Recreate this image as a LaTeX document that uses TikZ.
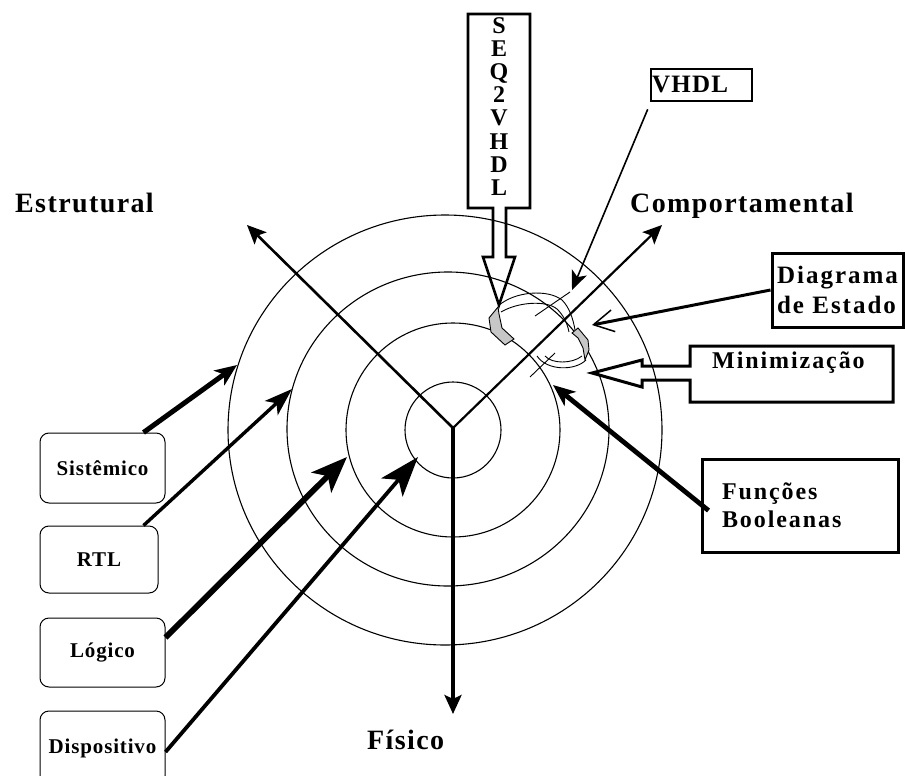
\documentclass[tikz,border=0pt]{standalone}
\usepackage{fontspec}
\setmainfont{Liberation Serif}
\usetikzlibrary{arrows.meta}
\begin{document}
\begin{tikzpicture}[x=1pt,y=-1pt,
  ring/.style={line width=1.1pt},
  axisline/.style={line width=2.6pt,-{Stealth[length=19pt,width=17pt,inset=4pt]}},
  heading/.style={font=\fontsize{28}{30}\selectfont\bfseries\addfontfeature{LetterSpace=5}, inner sep=0pt},
  lvlbox/.style={draw, line width=1pt, rounded corners=9pt, font=\fontsize{21}{22}\selectfont\bfseries\addfontfeature{LetterSpace=4}},
  tagbox/.style={draw, line width=3pt, align=left, inner sep=0pt, font=\fontsize{24}{30}\selectfont\bfseries\addfontfeature{LetterSpace=7}},
  feed/.style={line width=#1, -{Stealth[length=22pt,width=18pt,inset=6pt]}},
  ribbon/.style={line width=0.9pt},
  endcap/.style={draw, line width=0.9pt, fill=black!22}
]
\useasboundingbox (0,0) rectangle (905,776);

% concentric levels
\draw[ring] (453,430) circle [radius=48];
\draw[ring] (453,430) circle [radius=107];
\draw[ring] (448,429) ellipse [x radius=161, y radius=157];
\draw[ring] (445,430) ellipse [x radius=217, y radius=215];

% the three domain axes
\coordinate (o) at (453,428);
\coordinate (estr) at (247,225);
\coordinate (comp) at (662,225);
\coordinate (fis) at (453,714);
\draw[axisline] (o) -- (estr);
\draw[axisline, line width=2.2pt] (o) -- (comp);
\draw[axisline, line width=4.6pt] (o) -- (fis);

\node[heading, anchor=base west] (lestr) at (15,212) {Estrutural};
\node[heading, anchor=base west] (lcomp) at (630,212) {Comportamental};
\node[heading, anchor=base west] (lfis) at (367,749) {Físico};

% abstraction levels
\node[lvlbox, minimum width=125pt, minimum height=70pt] (sis) at (102.5,468) {Sistêmico};
\node[lvlbox, minimum width=118pt, minimum height=67pt] (rtl) at (99,559.5) {RTL};
\node[lvlbox, minimum width=125pt, minimum height=69pt] (log) at (102.5,652.5) {Lógico};
\node[lvlbox, minimum width=125pt, minimum height=74pt] (dis) at (102.5,748) {Dispositivo};

\coordinate (t1) at (237,365);
\coordinate (t2) at (292,389);
\coordinate (t3) at (347,457);
\coordinate (t4) at (418,457);
\draw[feed=5pt] ([xshift=-22pt]sis.north east) -- (t1);
\draw[feed=3.4pt, -{Stealth[length=28pt,width=19pt,inset=7pt]}] ([xshift=-15pt]rtl.north east) -- (t2);
\draw[feed=5.8pt, -{Stealth[length=36pt,width=28pt,inset=9pt]}] ([yshift=-20pt]log.north east) -- (t3);
\draw[feed=3.8pt, -{Stealth[length=40pt,width=28pt,inset=10pt]}] ([yshift=-4pt]dis.east) -- (t4);

% state diagram ribbons
\draw[ribbon] (498,306) .. controls (515,291) and (548,289) .. (562,300) .. controls (569,307) and (573,318) .. (575,330);
\draw[ribbon] (501,312) .. controls (518,302) and (546,300) .. (557,309) .. controls (563,315) and (567,322) .. (569,332);
\draw[ribbon] (586,360) .. controls (575,371) and (547,371) .. (537,356);
\draw[ribbon] (582,356) .. controls (572,364) and (552,364) .. (545,356);
\draw[ribbon] (535,316) -- (570,292);
\draw[ribbon] (530,377) -- (555,353);
\draw[endcap] (498,307) -- (489,318) -- (491,332) -- (505,345) -- (514,339) -- (502,328) -- (499,314) -- cycle;
\draw[endcap] (572,333) -- (578,328) -- (588,340) -- (589,350) -- (585,360) -- (583,348) -- (578,338) -- cycle;

% SEQ2VHDL callout
\node[font=\fontsize{24}{23.2}\selectfont\bfseries, align=center, inner sep=0pt, anchor=north] (seq) at (499,17)
  {S\\E\\Q\\2\\V\\H\\D\\L};
\draw[line width=2.6pt, line join=miter]
  (468,14) -- (530,14) -- (530,208) -- (506,208) -- (506,257) -- (515,257) -- (499,305)
  -- (483,257) -- (493,257) -- (493,208) -- (468,208) -- cycle;

% VHDL
\node[tagbox, line width=2.6pt, minimum height=32pt, text width=99pt, inner xsep=1pt, font=\fontsize{25}{30}\selectfont\bfseries\addfontfeature{LetterSpace=5}] (vhdl) at (701.5,85) {VHDL};
\coordinate (tv) at (572,290);
\draw[line width=1.6pt, -{Stealth[length=19pt,width=16pt,inset=5pt]}] ([xshift=-2pt,yshift=-7pt]vhdl.south west) -- (tv);

% Diagrama de Estado
\node[tagbox, minimum height=74pt, text width=121pt, inner xsep=5pt, font=\fontsize{25}{30}\selectfont\bfseries\addfontfeature{LetterSpace=8}] (diag) at (837.5,290) {Diagrama\\de Estado};
\coordinate (td) at (592,325);
\draw[line width=3pt, -{Straight Barb[length=20pt,width=22pt,line width=1.5pt]}] (diag.west) -- (td);

% Minimização callout
\node[font=\fontsize{24}{30}\selectfont\bfseries\addfontfeature{LetterSpace=8}, inner sep=0pt, anchor=base west] (mini) at (712,368) {Minimização};
\draw[line width=3pt, line join=miter]
  (690,346) -- (893,346) -- (893,402) -- (690,402) -- (690,380) -- (642,380) -- (642,387)
  -- (592,373) -- (642,360) -- (642,366) -- (690,366) -- cycle;

% Funções Booleanas
\node[tagbox, minimum height=93pt, text width=156pt, inner xsep=20pt, font=\fontsize{24}{28}\selectfont\bfseries\addfontfeature{LetterSpace=8}] (fb) at (800,505.5) {Funções\\Booleanas};
\coordinate (tf) at (553,385);
\draw[feed=4.8pt] ([xshift=8pt,yshift=-5pt]fb.west) -- (tf);
\end{tikzpicture}
\end{document}
